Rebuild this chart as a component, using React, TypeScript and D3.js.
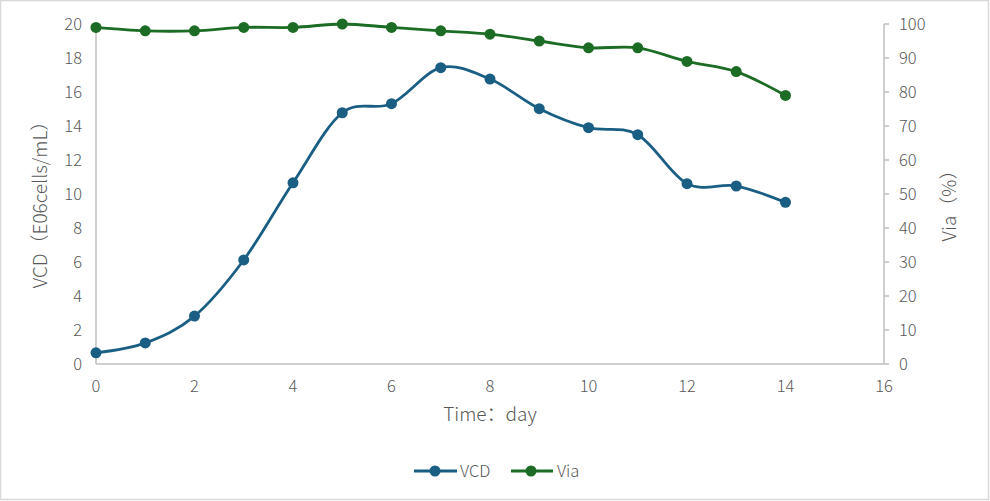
import React from "react";
import * as d3 from "d3";

const days = [0, 1, 2, 3, 4, 5, 6, 7, 8, 9, 10, 11, 12, 13, 14];
const vcd = [0.66, 1.24, 2.82, 6.12, 10.66, 14.78, 15.31, 17.43, 16.76, 15.02, 13.9, 13.49, 10.61, 10.47, 9.51];
const via = [99, 98, 98, 99, 99, 100, 99, 98, 97, 95, 93, 93, 89, 86, 79];
const xTicks = [0, 2, 4, 6, 8, 10, 12, 14, 16];
const leftTicks = [0, 2, 4, 6, 8, 10, 12, 14, 16, 18, 20];
const rightTicks = [0, 10, 20, 30, 40, 50, 60, 70, 80, 90, 100];

const W = 990, H = 501;
const FONT = "'Noto Sans CJK SC', 'Noto Sans', sans-serif";
const TXT = "#595959";
const AX = "#bfbfbf";
const C_VCD = "#1a5e84";
const C_VIA = "#1d6c25";

export default function App() {
  const x = d3.scaleLinear().domain([0, 16]).range([96, 884]);
  const yL = d3.scaleLinear().domain([0, 20]).range([364, 24]);
  const yR = d3.scaleLinear().domain([0, 100]).range([364, 24]);
  const curve = d3.curveCatmullRom.alpha(0);
  const lineV = d3.line<number>().x((_, i) => x(days[i])).y((d) => yL(d)).curve(curve);
  const lineA = d3.line<number>().x((_, i) => x(days[i])).y((d) => yR(d)).curve(curve);

  return (
    <svg width={W} height={H} style={{ position: "absolute", left: 0, top: 0, display: "block" }} fontFamily={FONT} fontWeight={300}>
      <rect x={0.5} y={0.5} width={W - 2} height={H - 2} fill="#fff" stroke="#d9d9d9" strokeWidth={1.5} />
      {/* axes */}
      <line x1={x(0)} x2={x(0)} y1={yL(20)} y2={yL(0)} stroke={AX} strokeWidth={1.5} />
      <line x1={x(0)} x2={x(16)} y1={yL(0)} y2={yL(0)} stroke={AX} strokeWidth={1.5} />
      <line x1={x(16)} x2={x(16)} y1={yR(100)} y2={yR(0)} stroke={AX} strokeWidth={1.5} />
      {rightTicks.map((t) => (
        <g key={"r" + t}>
          <line x1={x(16)} x2={x(16) + 5} y1={yR(t)} y2={yR(t)} stroke={AX} strokeWidth={1.5} />
          <text x={899} y={yR(t)} dy="0.36em" fontSize={16.5} fill={TXT}>{t}</text>
        </g>
      ))}
      {leftTicks.map((t) => (
        <text key={"l" + t} x={82} y={yL(t)} dy="0.36em" fontSize={16.5} fill={TXT} textAnchor="end">{t}</text>
      ))}
      {xTicks.map((t) => (
        <text key={"x" + t} x={x(t)} y={392} fontSize={16.5} fill={TXT} textAnchor="middle">{t}</text>
      ))}
      <text x={490} y={421} fontSize={19} fill={TXT} textAnchor="middle">Time：day</text>
      <text transform={`translate(47,${200}) rotate(-90)`} fontSize={19} fill={TXT} textAnchor="middle">VCD（E06cells/mL）</text>
      <text transform={`translate(956,${201}) rotate(-90)`} fontSize={19} fill={TXT} textAnchor="middle">Via（%）</text>
      {/* lines */}
      <path d={lineV(vcd) || ""} fill="none" stroke={C_VCD} strokeWidth={2.8} />
      {vcd.map((v, i) => (
        <circle key={"v" + i} cx={x(days[i])} cy={yL(v)} r={5.5} fill={C_VCD} />
      ))}
      <path d={lineA(via) || ""} fill="none" stroke={C_VIA} strokeWidth={2.8} />
      {via.map((v, i) => (
        <circle key={"a" + i} cx={x(days[i])} cy={yR(v)} r={5.5} fill={C_VIA} />
      ))}
      {/* legend */}
      <line x1={414} x2={457} y1={471} y2={471} stroke={C_VCD} strokeWidth={2.8} />
      <circle cx={435} cy={471} r={5.5} fill={C_VCD} />
      <text x={460} y={471} dy="0.36em" fontSize={16.5} fill={TXT}>VCD</text>
      <line x1={511} x2={553} y1={471} y2={471} stroke={C_VIA} strokeWidth={2.8} />
      <circle cx={531} cy={471} r={5.5} fill={C_VIA} />
      <text x={557} y={471} dy="0.36em" fontSize={16.5} fill={TXT}>Via</text>
    </svg>
  );
}
